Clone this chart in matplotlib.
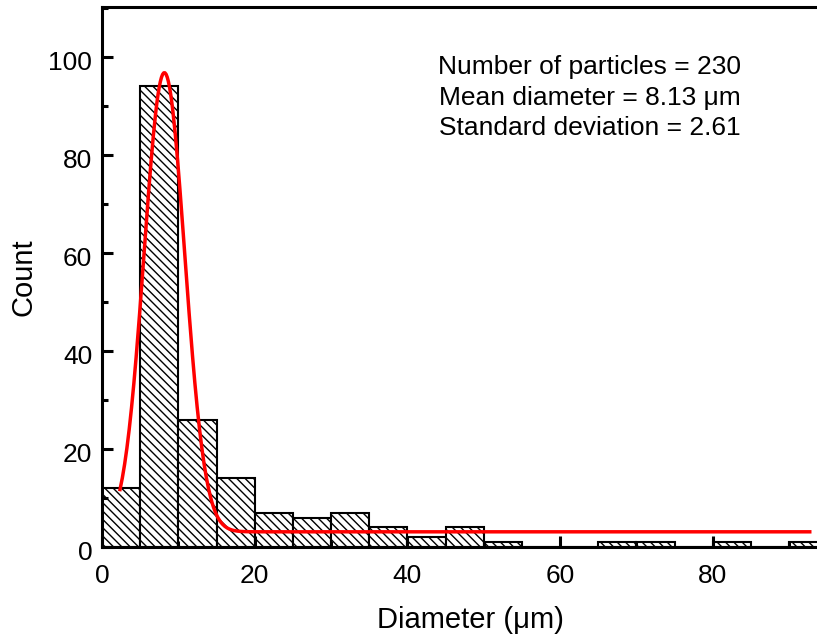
import numpy as np
import matplotlib
matplotlib.use("Agg")
import matplotlib.pyplot as plt
import matplotlib.transforms as mtransforms
from matplotlib.ticker import MultipleLocator

plt.rcParams['font.family'] = ['Liberation Sans', 'DejaVu Sans']
plt.rcParams['hatch.linewidth'] = 1.0

# histogram bins (5 um wide) and counts
bin_left = [0, 5, 10, 15, 20, 25, 30, 35, 40, 45, 50, 55, 60, 65, 70, 75, 80, 85, 90]
counts = [12, 94, 26, 14, 7, 6, 7, 4, 2, 4, 1, 0, 0, 1, 1, 0, 1, 0, 1]
bin_width = 5

# gaussian fit parameters (offset, amplitude, centre, sigma) and x range of fit line
fit_y0 = 3.1
fit_amp = 93.7
fit_xc = 8.17
fit_sigma = 2.66
fit_xmin, fit_xmax = 2.36, 92.7

stats_text = ["Number of particles = 230",
              "Mean diameter = 8.13 \u03bcm",
              "Standard deviation = 2.61"]

fig = plt.figure(figsize=(8.17, 6.39), dpi=100)
# the plot frame runs a bit past the right edge of the picture
ax = fig.add_axes([102 / 817, 92 / 639, (838 - 102) / 817, (547 - 7) / 639])

ax.bar(bin_left, counts, width=bin_width, align='edge', color='white',
       edgecolor='black', linewidth=1.5, hatch='\\\\\\\\')

xf = np.linspace(fit_xmin, fit_xmax, 600)
yf = fit_y0 + fit_amp * np.exp(-(xf - fit_xc) ** 2 / (2 * fit_sigma ** 2))
ax.plot(xf, yf, color='red', lw=2.5)

ax.set_xlim(0, 96.4)
ax.set_ylim(0, 110.2)

ax.xaxis.set_major_locator(MultipleLocator(20))
ax.xaxis.set_minor_locator(MultipleLocator(10))
ax.yaxis.set_major_locator(MultipleLocator(20))
ax.yaxis.set_minor_locator(MultipleLocator(10))
ax.tick_params(which='both', direction='in', top=False, right=False, width=2.2)
ax.tick_params(which='major', length=8, labelsize=19)
ax.tick_params(axis='x', which='major', pad=12)
ax.tick_params(axis='y', which='major', pad=7)
ax.tick_params(which='minor', length=4)

# y tick labels sit a little low in the original
shift = mtransforms.ScaledTranslation(0, -4 / 100, fig.dpi_scale_trans)
for lab in ax.get_yticklabels():
    lab.set_transform(lab.get_transform() + shift)

for s in ['left', 'bottom', 'top']:
    ax.spines[s].set_linewidth(2.2)
ax.spines['right'].set_visible(False)

ax.set_xlabel('Diameter (\u03bcm)', fontsize=21, labelpad=13)
ax.set_ylabel('Count', fontsize=21, labelpad=8)

for i, t in enumerate(stats_text):
    fig.text(590 / 817, 1 - (67 + 30.5 * i) / 639, t, fontsize=19,
             ha='center', va='center')

fig.savefig('out.png', dpi=100)
